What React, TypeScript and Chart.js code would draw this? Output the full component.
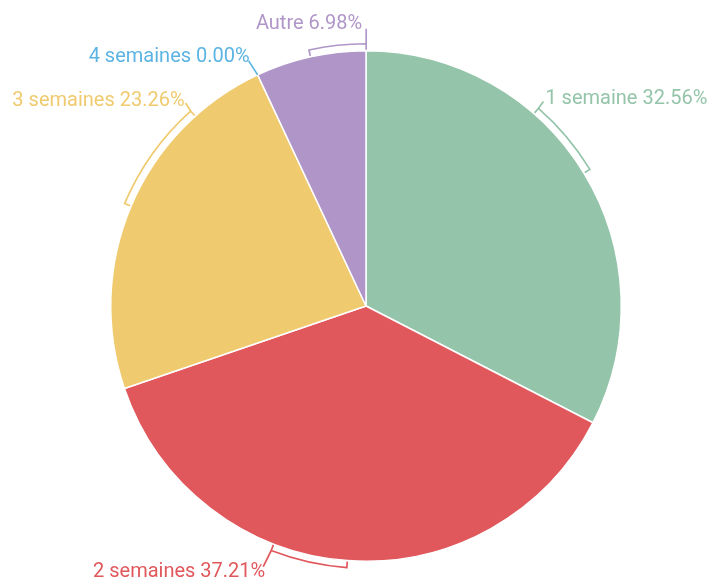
import React, { useEffect, useRef } from "react";
import { Chart, registerables } from "chart.js";

Chart.register(...registerables);

const categories = ["1 semaine", "2 semaines", "3 semaines", "4 semaines", "Autre"];
const counts = [14, 16, 10, 0, 3];
const colors = ["#94c4a9", "#e0585c", "#f0ca6e", "#5cb4e4", "#b096c8"];

// label styling: bracket span (deg, clockwise from slice middle), leader vector, text offset
const bracketSpans = [-17.5, 17, 25, 0, 12.6];
const leaderVecs = [[5, -7], [-8, 16], [-5, -8], [-9, -14], [0, -15]];
const textOffsets = [[2, -2], [2, 5], [-1, -2], [1, -4], [-4, -5]];

const labelPlugin = {
  id: "bracketLabels",
  afterDatasetsDraw(chart: any) {
    const ctx = chart.ctx;
    const meta = chart.getDatasetMeta(0);
    const data = chart.data.datasets[0].data as number[];
    const total = data.reduce((a: number, b: number) => a + b, 0);
    ctx.save();
    ctx.lineWidth = 1.7;
    ctx.font = '20px Roboto, "Noto Sans", sans-serif';
    ctx.textBaseline = "middle";
    meta.data.forEach((arc: any, i: number) => {
      const p = arc.getProps(["x", "y", "startAngle", "endAngle", "outerRadius"], true);
      const cx = p.x, cy = p.y, R = p.outerRadius;
      const mid = (p.startAngle + p.endAngle) / 2;
      const span = (bracketSpans[i] * Math.PI) / 180;
      const rb = R + 7;
      const ri = R + 1;
      const col = colors[i];
      ctx.strokeStyle = col;
      ctx.fillStyle = col;
      let ex: number, ey: number;
      if (span !== 0) {
        const a1 = mid, a2 = mid + span;
        ctx.beginPath();
        ctx.moveTo(cx + ri * Math.cos(a1), cy + ri * Math.sin(a1));
        ctx.lineTo(cx + rb * Math.cos(a1), cy + rb * Math.sin(a1));
        ctx.arc(cx, cy, rb, a1, a2, span < 0);
        ctx.lineTo(cx + ri * Math.cos(a2), cy + ri * Math.sin(a2));
        ctx.stroke();
        ex = cx + rb * Math.cos(a2);
        ey = cy + rb * Math.sin(a2);
      } else {
        ex = cx + R * Math.cos(mid);
        ey = cy + R * Math.sin(mid);
      }
      const lx = ex + leaderVecs[i][0];
      const ly = ey + leaderVecs[i][1];
      ctx.beginPath();
      ctx.moveTo(ex, ey);
      ctx.lineTo(lx, ly);
      ctx.stroke();
      const pct = total ? ((data[i] / total) * 100).toFixed(2) : "0.00";
      const text = `${categories[i]} ${pct}%`;
      ctx.textAlign = leaderVecs[i][0] > 0 ? "left" : "right";
      ctx.fillText(text, lx + textOffsets[i][0], ly + textOffsets[i][1]);
    });
    ctx.restore();
  },
};

export default function App() {
  const ref = useRef<HTMLCanvasElement>(null);
  useEffect(() => {
    document.body.style.margin = "0";
    const chart = new Chart(ref.current!, {
      type: "pie",
      data: {
        labels: categories,
        datasets: [
          {
            data: counts,
            backgroundColor: colors,
            borderColor: "#ffffff",
            borderWidth: 1.5,
          },
        ],
      },
      options: {
        animation: false,
        responsive: false,
        devicePixelRatio: 1,
        layout: { padding: { left: 110, right: 90, top: 50, bottom: 24 } },
        plugins: { legend: { display: false }, tooltip: { enabled: false } },
      },
      plugins: [labelPlugin],
    });
    return () => chart.destroy();
  }, []);
  return (
    <div style={{ width: 712, height: 586, background: "#fff" }}>
      <canvas ref={ref} width={712} height={586} />
    </div>
  );
}
